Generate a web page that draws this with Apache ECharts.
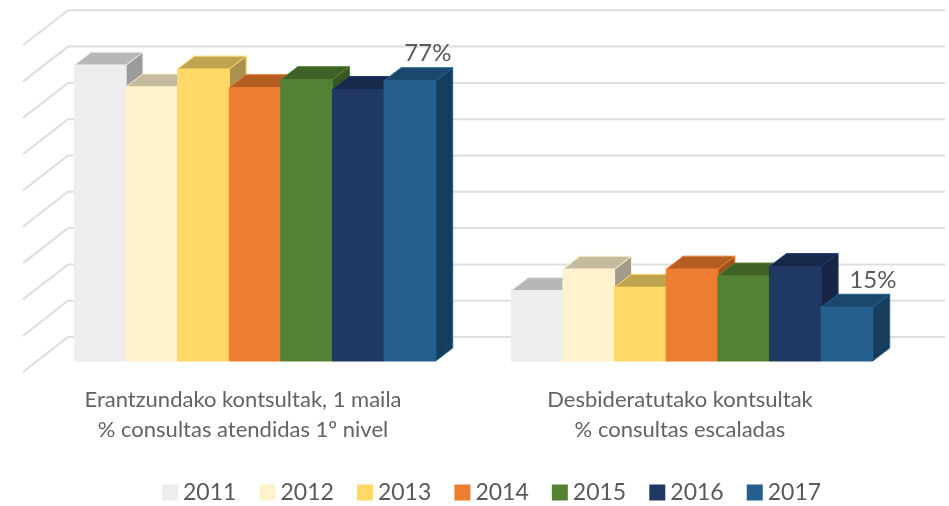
<!DOCTYPE html>
<html><head><meta charset="utf-8">
<style>html,body{margin:0;padding:0;background:#fff}#c{width:949px;height:506px}</style>
<script src="https://cdn.jsdelivr.net/npm/echarts@6/dist/echarts.min.js"></script>
</head><body><div id="c"></div>
<script>
const categories = ["Erantzundako kontsultak, 1 maila\n% consultas atendidas 1º nivel", "Desbideratutako kontsultak\n% consultas escaladas"];
const years = ["2011","2012","2013","2014","2015","2016","2017"];
const v2011 = [81.5, 19.4];
const v2012 = [75.5, 25.3];
const v2013 = [80.4, 20.3];
const v2014 = [75.3, 25.3];
const v2015 = [77.5, 23.4];
const v2016 = [74.8, 26.0];
const v2017 = [77.2, 14.8];
const gridTicks = [0,10,20,30,40,50,60,70,80,90];
const values = [v2011,v2012,v2013,v2014,v2015,v2016,v2017];
const front = ['#EDEDED','#FFF2CC','#FFD966','#ED7D31','#548235','#1F3864','#23608F'];
const top_  = ['#B7B7B7','#C4BA9E','#BFA34F','#B55E22','#3F6228','#182A4B','#1A476B'];
const side  = ['#9B9B9B','#A19D8A','#A8924E','#9C5420','#375622','#152644','#173D5C'];
const edge  = front;

const WALL_DX = 45, WALL_DY = -35, BAR_SHIFT_X = 12, BAR_SHIFT_Y = -11, DX = 17, DY = -13;
const GROUP_RATIO = 0.827;

function barSeries(idx){
  return {
    type:'custom', name:years[idx], coordinateSystem:'cartesian2d',
    itemStyle:{color:front[idx]}, encode:{x:0,y:1},
    data: values[idx].map((v,i)=>[i,v]),
    renderItem(params, api){
      const p = api.coord([api.value(0), api.value(1)]);
      const p0 = api.coord([api.value(0), 0]);
      const band = api.size([1,0])[0];
      const w = band*GROUP_RATIO/7;
      const x = p[0] - w*3.5 + idx*w + BAR_SHIFT_X;
      const y = p[1] + BAR_SHIFT_Y, b = p0[1] + BAR_SHIFT_Y;
      const st = (f,s)=>({fill:f,stroke:s,lineWidth:1,lineJoin:'round'});
      const ch = [
        {type:'polygon',shape:{points:[[x+w,y],[x+w+DX,y+DY],[x+w+DX,b+DY],[x+w,b]]},style:st(side[idx],edge[idx])},
        {type:'polygon',shape:{points:[[x,y],[x+DX,y+DY],[x+w+DX,y+DY],[x+w,y]]},style:st(top_[idx],edge[idx])},
        {type:'rect',shape:{x:x,y:y,width:w,height:b-y},style:st(front[idx],edge[idx])}
      ];
      if(idx===6){
        ch.push({type:'text',silent:true,style:{
          text:Math.round(api.value(1))+'%',
          x:x+w/2+(api.value(0)===0?18:26), y:y+DY-14,
          align:'center',verticalAlign:'middle',
          font:'24px Lato',fill:'#595959'}});
      }
      return {type:'group',children:ch};
    }
  };
}

const wallSeries = {
  type:'custom', name:'wall', coordinateSystem:'cartesian2d', silent:true, encode:{x:0,y:1},
  data: gridTicks.map(v=>[0,v]),
  renderItem(params, api){
    const cs = params.coordSys;
    const y = api.coord([0, api.value(1)])[1];
    const x0 = cs.x - 1.5;
    return {type:'polyline',shape:{points:[[x0,y],[x0+WALL_DX,y+WALL_DY],[x0+cs.width+WALL_DX+3,y+WALL_DY]]},
      style:{fill:null,stroke:'#DEDEDE',lineWidth:2}};
  }
};

const chart = echarts.init(document.getElementById('c'),null,{renderer:'canvas'});
chart.setOption({
  animation:false, backgroundColor:'#fff',
  grid:{left:24.5,width:874,top:45.3,height:326.7},
  xAxis:{type:'category',data:categories,
    axisLine:{show:false},axisTick:{show:false},splitLine:{show:false},
    axisLabel:{margin:13,fontFamily:'Lato',fontSize:22,lineHeight:30,color:'#636363',interval:0}},
  yAxis:{type:'value',min:0,max:90,interval:10,show:false,splitLine:{show:false}},
  legend:{data:years,left:162,top:481,padding:0,icon:'rect',itemWidth:16,itemHeight:16,itemGap:23.1,
    textStyle:{fontFamily:'Lato',fontSize:23,color:'#595959'}},
  series:[wallSeries].concat(years.map((y,i)=>barSeries(i)))
});
</script></body></html>
